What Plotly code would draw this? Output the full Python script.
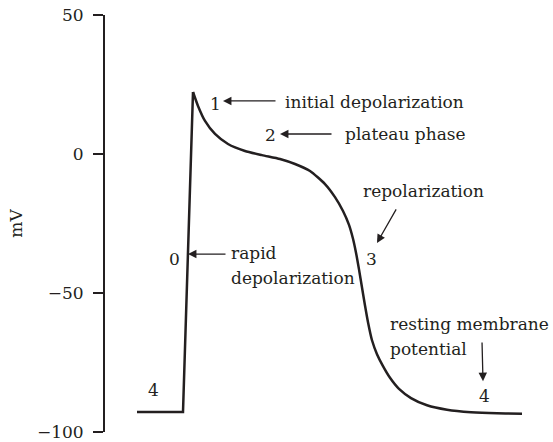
import plotly.graph_objects as go

# Cardiac ventricular action potential: time (ms, relative to upstroke) and membrane voltage (mV)
upstroke_t = [-46, 0, 10]
upstroke_v = [-92.8, -92.8, 22.3]

repol_t = [10, 15, 22, 32, 45, 62, 79, 97, 112, 127, 142, 152, 160, 166, 170, 173, 176,
           179, 182, 185, 189, 194, 200, 207, 216, 228, 244, 264, 288, 314, 339]
repol_v = [22.3, 17.3, 11.9, 7.2, 3.6, 1.1, -0.4, -1.8, -3.6, -6.1, -10.8, -15.5, -20.5,
           -25.5, -30.5, -35.5, -41.5, -48.0, -54.5, -60.5, -67.0, -72.0, -76.3, -80.5,
           -84.5, -87.8, -90.4, -92.0, -92.9, -93.3, -93.4]

y_ticks = [50, 0, -50, -100]

# Phase numbers and their positions
phase_labels = ["0", "1", "2", "3", "4", "4"]
phase_t = [-9, 32, 87, 188, -30, 301]
phase_v = [-37.8, 18.0, 6.8, -37.8, -84.9, -87.1]

# Descriptive notes: (text, t, v, anchor)
notes = [
    ("initial depolarization", 100, 18.7, "left"),
    ("plateau phase", 160, 7.2, "left"),
    ("rapid", 46, -35.5, "left"),
    ("depolarization", 46, -44.5, "left"),
    ("repolarization", 240, -13.3, "center"),
    ("resting membrane", 205, -61.2, "left"),
    ("potential", 205, -70.1, "left"),
]

# Arrows: (tail_t, tail_v, head_t, head_v)
arrows = [
    (94, 19.1, 40, 19.1),
    (150, 7.2, 97, 7.2),
    (44, -36.0, 5, -36.0),
    (214, -19.4, 194, -32.0),
    (299, -67.3, 300, -81.7),
]

ink = "#231f20"
serif = "DejaVu Serif, Liberation Serif, serif"
fsize = 17

fig = go.Figure()
fig.add_trace(go.Scatter(x=upstroke_t, y=upstroke_v, mode="lines",
                         line=dict(color=ink, width=2.5), hoverinfo="skip"))
fig.add_trace(go.Scatter(x=repol_t, y=repol_v, mode="lines",
                         line=dict(color=ink, width=2.5, shape="spline", smoothing=0.6),
                         hoverinfo="skip"))

annotations = []
for txt, t, v in zip(phase_labels, phase_t, phase_v):
    annotations.append(dict(x=t, y=v, xref="x", yref="y", text=txt, showarrow=False,
                            font=dict(family=serif, size=fsize, color=ink)))
for txt, t, v, anchor in notes:
    annotations.append(dict(x=t, y=v, xref="x", yref="y", text=txt, showarrow=False,
                            xanchor=anchor, font=dict(family=serif, size=fsize, color=ink)))
for tt, tv, ht, hv in arrows:
    annotations.append(dict(x=ht, y=hv, ax=tt, ay=tv, xref="x", yref="y", axref="x", ayref="y",
                            text="", showarrow=True, arrowhead=2, arrowsize=1.3,
                            arrowwidth=1.3, arrowcolor=ink))

fig.update_layout(
    width=553, height=442,
    margin=dict(l=105, r=0, t=15, b=10),
    paper_bgcolor="white", plot_bgcolor="white",
    showlegend=False,
    font=dict(family=serif, size=fsize, color=ink),
    xaxis=dict(range=[-78, 370], visible=False),
    yaxis=dict(range=[-100, 50], tickvals=y_ticks, showgrid=False, zeroline=False,
               showline=True, linecolor=ink, linewidth=2,
               ticks="outside", ticklen=10, tickwidth=2, tickcolor=ink,
               ticklabelstandoff=6,
               tickfont=dict(family=serif, size=fsize, color=ink),
               title=dict(text="mV", standoff=10, font=dict(family=serif, size=fsize, color=ink))),
    annotations=annotations,
)

fig.write_html("out.html")
